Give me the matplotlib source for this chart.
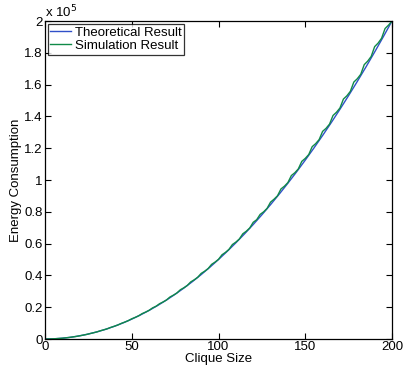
import matplotlib
matplotlib.use("Agg")
import matplotlib.pyplot as plt
from matplotlib.ticker import FuncFormatter

plt.rcParams["font.family"] = ["Liberation Sans", "DejaVu Sans"]

# theoretical curve, every 5 units
theory_x = [0, 5, 10, 15, 20, 25, 30, 35, 40, 45, 50, 55, 60, 65, 70, 75, 80,
            85, 90, 95, 100, 105, 110, 115, 120, 125, 130, 135, 140, 145, 150,
            155, 160, 165, 170, 175, 180, 185, 190, 195, 200]
theory_y = [0, 125, 500, 1125, 2000, 3125, 4500, 6125, 8000, 10125, 12500,
            15125, 18000, 21125, 24500, 28125, 32000, 36125, 40500, 45125,
            50000, 55125, 60500, 66125, 72000, 78125, 84500, 91125, 98000,
            105125, 112500, 120125, 128000, 136125, 144500, 153125, 162000,
            171125, 180500, 190125, 200000]

# simulation, every 2 units (small bumps above the theory)
sim_x = list(range(0, 201, 2))
sim_y = [0, 20, 80, 180, 330, 500, 740, 980, 1310, 1620,
         2040, 2430, 2880, 3440, 3940, 4500, 5200, 5810, 6480, 7340,
         8040, 8820, 9840, 10640, 11540, 12720, 13600, 14600, 15980, 16920,
         18030, 19570, 20600, 22180, 23270, 24540, 26400, 27580, 28940, 30970,
         32200, 33680, 35930, 37230, 38800, 41250, 42620, 44280, 46930, 48370,
         50100, 52970, 54480, 56330, 59420, 60950, 62870, 66180, 67780, 69820,
         73400, 75020, 78380, 79980, 82170, 86100, 87920, 90080, 94380, 96120,
         98400, 102820, 104580, 106980, 111720, 113600, 116020, 120980, 122880, 125420,
         130600, 132520, 135180, 140580, 142620, 145300, 150920, 152980, 155780, 161620,
         163700, 166520, 172580, 174780, 177720, 183900, 186120, 189180, 195280, 197420,
         200000]

fig = plt.figure(figsize=(4.03, 3.69), dpi=100)
ax = fig.add_axes([0.1117, 0.0813, 0.8610, 0.8617])

ax.plot(theory_x, theory_y, color="#3050c8", lw=1.0, label="Theoretical Result")
ax.plot(sim_x, sim_y, color="#108a48", lw=1.0, label="Simulation Result")

ax.set_xlim(0, 200)
ax.set_ylim(0, 200000)
ax.set_xticks([0, 50, 100, 150, 200])
ax.set_yticks([i * 20000 for i in range(11)])
ax.yaxis.set_major_formatter(FuncFormatter(lambda v, p: f"{v / 1e5:g}"))
ax.tick_params(direction="in", top=True, right=True, labelsize=9.5, length=4, pad=1.5)
for s in ax.spines.values():
    s.set_linewidth(0.9)

ax.set_xlabel("Clique Size", fontsize=9.5, labelpad=0)
ax.set_ylabel("Energy Consumption", fontsize=9.5, labelpad=2)
ax.text(0.0, 1.003, r"x 10$^5$", transform=ax.transAxes, fontsize=9.5,
        ha="left", va="bottom")

leg = ax.legend(loc="upper left", fontsize=9.5, frameon=True, fancybox=False,
                edgecolor="black", borderaxespad=0.2, handlelength=1.6,
                handletextpad=0.25, borderpad=0.2, labelspacing=0.1)
leg.get_frame().set_linewidth(0.9)

fig.savefig("out.png", dpi=100)
